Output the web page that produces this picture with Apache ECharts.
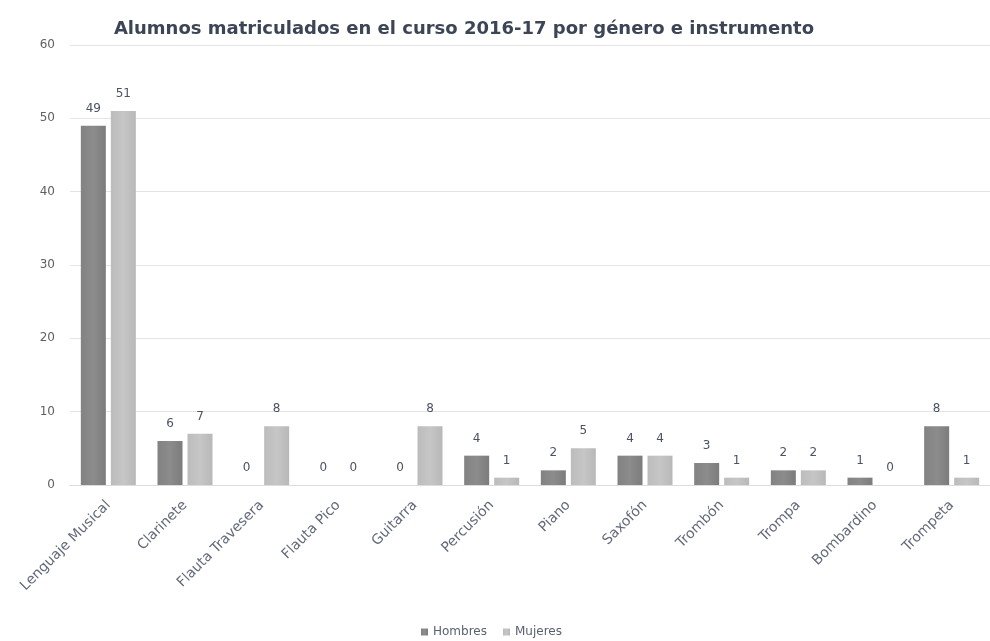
<!DOCTYPE html>
<html>
<head>
<meta charset="utf-8">
<script src="https://cdn.jsdelivr.net/npm/echarts@6/dist/echarts.min.js"></script>
<style>
  html, body { margin: 0; padding: 0; background: #fff; }
  #chart { width: 990px; height: 641px; }
</style>
</head>
<body>
<div id="chart"></div>
<script>
// Enrolment 2016-17 by gender and instrument
const categories = [
  'Lenguaje Musical', 'Clarinete', 'Flauta Travesera', 'Flauta Pico', 'Guitarra',
  'Percusión', 'Piano', 'Saxofón', 'Trombón', 'Trompa', 'Bombardino', 'Trompeta'
];
const hombres = [49, 6, 0, 0, 0, 4, 2, 4, 3, 2, 1, 8];
const mujeres = [51, 7, 8, 0, 8, 1, 5, 4, 1, 2, 0, 1];
const yTicks = { min: 0, max: 60, interval: 10 };

const font = '"DejaVu Sans", "Noto Sans", sans-serif';
const chart = echarts.init(document.getElementById('chart'));

const valueLabel = {
  show: true,
  position: 'top',
  distance: 11,
  color: '#4a5263',
  fontSize: 12,
  fontFamily: font
};

chart.setOption({
  backgroundColor: '#ffffff',
  animation: false,
  title: {
    text: 'Alumnos matriculados en el curso 2016-17 por género e instrumento',
    left: 459,
    textAlign: 'center',
    top: 15,
    textStyle: { color: '#3c4556', fontSize: 18, fontWeight: 'bold', fontFamily: font }
  },
  legend: {
    top: 621,
    left: 416,
    itemWidth: 7,
    itemHeight: 7,
    itemGap: 16,
    icon: 'rect',
    textStyle: { color: '#5a6070', fontSize: 12, fontFamily: font },
    data: ['Hombres', 'Mujeres']
  },
  grid: { left: 70, right: -9, top: 45, bottom: 156, containLabel: false },
  xAxis: {
    type: 'category',
    data: categories,
    axisLine: { lineStyle: { color: '#dcdcdc' } },
    axisTick: { show: false },
    axisLabel: {
      rotate: 45,
      interval: 0,
      margin: 18,
      color: '#646a7a',
      fontSize: 14,
      fontFamily: font
    }
  },
  yAxis: {
    type: 'value',
    min: yTicks.min,
    max: yTicks.max,
    interval: yTicks.interval,
    axisLine: { show: false },
    axisTick: { show: false },
    axisLabel: { color: '#606060', fontSize: 12, fontFamily: font, margin: 15 },
    splitLine: { lineStyle: { color: '#e4e4e4' } }
  },
  series: [
    {
      name: 'Hombres',
      type: 'bar',
      data: hombres,
      barWidth: 25,
      barGap: '20%',
      itemStyle: {
        color: new echarts.graphic.LinearGradient(0, 0, 1, 0, [
          { offset: 0, color: '#828282' },
          { offset: 0.5, color: '#8c8c8c' },
          { offset: 1, color: '#7c7c7c' }
        ])
      },
      label: valueLabel
    },
    {
      name: 'Mujeres',
      type: 'bar',
      data: mujeres,
      barWidth: 25,
      itemStyle: {
        color: new echarts.graphic.LinearGradient(0, 0, 1, 0, [
          { offset: 0, color: '#bcbcbc' },
          { offset: 0.5, color: '#c6c6c6' },
          { offset: 1, color: '#b8b8b8' }
        ])
      },
      label: valueLabel
    }
  ]
});
</script>
</body>
</html>
